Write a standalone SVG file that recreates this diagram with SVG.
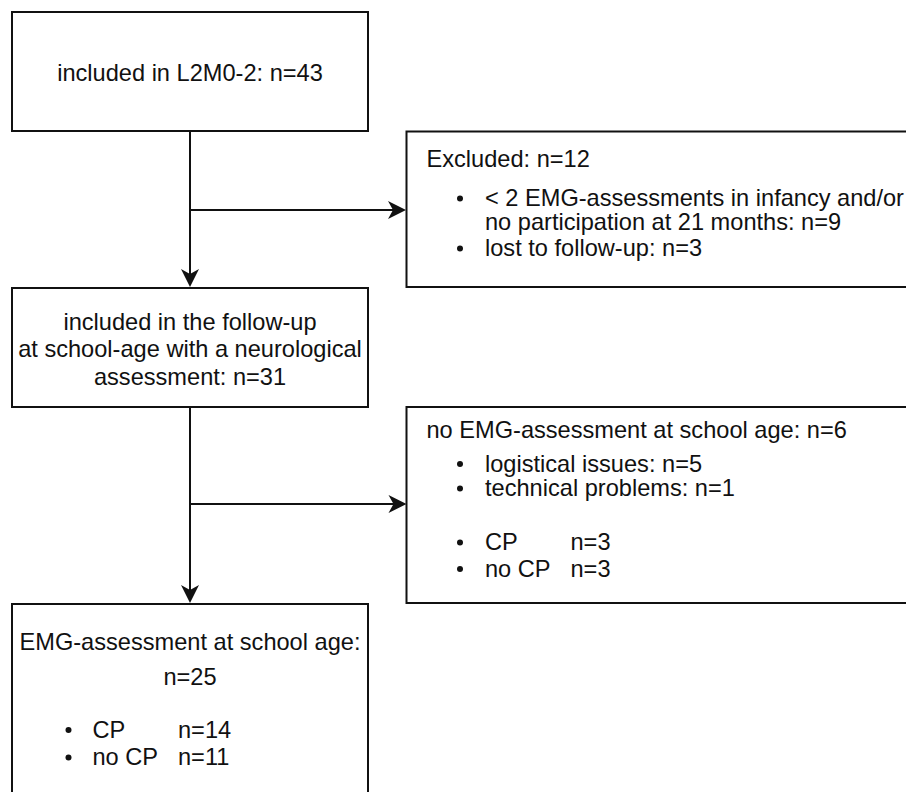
<svg xmlns="http://www.w3.org/2000/svg" width="906" height="792" viewBox="0 0 906 792">
<style>
.box{fill:#fff;stroke:#111;stroke-width:2}
.t{font-family:"Liberation Sans",Arial,sans-serif;font-size:23.6px;fill:#111}
.c{text-anchor:middle}
.line{fill:none;stroke:#111;stroke-width:2}
.dot{fill:#111}
</style>
<defs>
<marker id="arr" markerUnits="userSpaceOnUse" markerWidth="24" markerHeight="24" viewBox="-20 -10 24 20" refX="-5" refY="0" orient="auto">
<path d="M0,0 L-18,-9 L-13,0 L-18,9 Z" fill="#111"/>
</marker>
</defs>
<rect width="906" height="792" fill="#fff"/>
<g id="connectors">
<path class="line" d="M190,131 L190,282" marker-end="url(#arr)"/>
<path class="line" d="M190,210 L401,210" marker-end="url(#arr)"/>
<path class="line" d="M190,407 L190,598" marker-end="url(#arr)"/>
<path class="line" d="M190,504 L401.5,504" marker-end="url(#arr)"/>
</g>
<g id="included">
<rect class="box" x="12" y="12" width="356" height="119"/>
<text class="t c" x="190" y="81">included in L2M0-2: n=43</text>
</g>
<g id="excluded">
<rect class="box" x="406.5" y="131.5" width="520" height="155.5"/>
<text class="t" x="426.5" y="166.5">Excluded: n=12</text>
<circle class="dot" cx="460" cy="198.5" r="3"/>
<text class="t" x="485" y="206">&lt; 2 EMG-assessments in infancy and/or</text>
<text class="t" x="485" y="230">no participation at 21 months: n=9</text>
<circle class="dot" cx="460" cy="248.5" r="3"/>
<text class="t" x="485" y="256">lost to follow-up: n=3</text>
</g>
<g id="followup">
<rect class="box" x="12" y="288" width="356" height="119"/>
<text class="t c" x="190" y="329.5">included in the follow-up</text>
<text class="t c" x="190" y="357">at school-age with a neurological</text>
<text class="t c" x="190" y="384.5">assessment: n=31</text>
</g>
<g id="noemg">
<rect class="box" x="406.5" y="407" width="520" height="196"/>
<text class="t" x="426.5" y="437.5">no EMG-assessment at school age: n=6</text>
<circle class="dot" cx="460" cy="464" r="3"/>
<text class="t" x="485" y="471.5">logistical issues: n=5</text>
<circle class="dot" cx="460" cy="488.5" r="3"/>
<text class="t" x="485" y="496">technical problems: n=1</text>
<circle class="dot" cx="460" cy="542.5" r="3"/>
<text class="t" x="485" y="550">CP</text>
<text class="t" x="570.5" y="550">n=3</text>
<circle class="dot" cx="460" cy="569" r="3"/>
<text class="t" x="485" y="576.5">no CP</text>
<text class="t" x="570.5" y="576.5">n=3</text>
</g>
<g id="emg">
<rect class="box" x="12" y="604" width="356" height="210"/>
<text class="t c" x="190" y="650">EMG-assessment at school age:</text>
<text class="t c" x="190" y="685">n=25</text>
<circle class="dot" cx="68.5" cy="730" r="3"/>
<text class="t" x="92.5" y="737.5">CP</text>
<text class="t" x="178" y="737.5">n=14</text>
<circle class="dot" cx="68.5" cy="757.5" r="3"/>
<text class="t" x="92.5" y="765">no CP</text>
<text class="t" x="178" y="765">n=11</text>
</g>
</svg>
